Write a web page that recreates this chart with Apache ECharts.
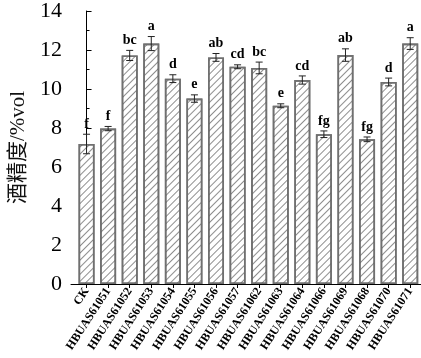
<!DOCTYPE html>
<html>
<head>
<meta charset="utf-8">
<script src="https://cdn.jsdelivr.net/npm/echarts@6/dist/echarts.min.js"></script>
<style>html,body{margin:0;padding:0;background:#fff}#c{width:421px;height:358px}</style>
</head>
<body>
<div id="c"></div>
<script>
var categories = ['CK','HBUAS61051','HBUAS61052','HBUAS61053','HBUAS61054','HBUAS61055','HBUAS61056','HBUAS61057','HBUAS61062','HBUAS61063','HBUAS61064','HBUAS61066','HBUAS61069','HBUAS61068','HBUAS61070','HBUAS61071'];
var values = [7.18, 7.97, 11.72, 12.33, 10.53, 9.51, 11.62, 11.14, 11.08, 9.14, 10.46, 7.68, 11.74, 7.42, 10.36, 12.33];
var errors = [0.5, 0.11, 0.26, 0.36, 0.2, 0.19, 0.2, 0.1, 0.3, 0.1, 0.21, 0.17, 0.32, 0.12, 0.2, 0.3];
var letters = ['f','f','bc','a','d','e','ab','cd','bc','e','cd','fg','ab','fg','d','a'];
var yTicks = [0, 2, 4, 6, 8, 10, 12, 14];
var yName = '酒精度/%vol';

var idx = categories.map(function (c, i) { return i; });
var barData = values.map(function (v, i) { return [i, v]; });
var errData = values.map(function (v, i) { return [i, v, errors[i], i]; });

var chart = echarts.init(document.getElementById('c'), null, {renderer: 'canvas'});
chart.setOption({
  animation: false,
  backgroundColor: '#fff',
  grid: {left: 61, right: 0, top: 8, bottom: 74, containLabel: false},
  xAxis: {
    type: 'value',
    min: -0.72,
    max: 15.5,
    splitLine: {show: false},
    axisLine: {show: true, lineStyle: {color: '#000', width: 1}},
    axisTick: {show: true, inside: false, length: 4, customValues: idx, lineStyle: {color: '#000'}},
    axisLabel: {
      show: true, customValues: idx, rotate: 57, margin: 5,
      fontFamily: 'Liberation Serif', fontWeight: 'bold', fontSize: 12, color: '#000',
      formatter: function (v) { return categories[Math.round(v)]; }
    }
  },
  yAxis: {
    type: 'value',
    min: yTicks[0], max: yTicks[yTicks.length - 1], interval: 2,
    name: yName, nameLocation: 'middle', nameGap: 42,
    nameTextStyle: {fontFamily: 'Liberation Serif, Noto Sans CJK SC', fontSize: 21, color: '#111'},
    splitLine: {show: false},
    axisLine: {show: true, lineStyle: {color: '#000', width: 1}},
    axisTick: {show: true, inside: true, length: 5, lineStyle: {color: '#000'}},
    minorTick: {show: true, splitNumber: 2, length: 3, lineStyle: {color: '#000'}},
    axisLabel: {fontFamily: 'Liberation Serif', fontSize: 22, color: '#000', margin: 9}
  },
  series: [
    {
      type: 'bar',
      data: barData,
      barWidth: 16,
      itemStyle: {
        color: '#fff',
        borderColor: '#707070',
        borderWidth: 1.6,
        decal: {
          symbol: 'rect', symbolSize: 1,
          dashArrayX: [1, 0], dashArrayY: [1, 3.4],
          rotation: -Math.PI / 4,
          color: 'rgba(50,50,50,0.55)'
        }
      },
      z: 2
    },
    {
      type: 'custom',
      data: errData,
      z: 5,
      renderItem: function (params, api) {
        var x = api.value(0), v = api.value(1), e = api.value(2), i = api.value(3);
        var top = api.coord([x, v + e]);
        var bot = api.coord([x, v - e]);
        var cw = 3.5;
        var st = {stroke: '#222', lineWidth: 1};
        return {
          type: 'group',
          children: [
            {type: 'line', shape: {x1: top[0], y1: top[1], x2: bot[0], y2: bot[1]}, style: st},
            {type: 'line', shape: {x1: top[0] - cw, y1: top[1], x2: top[0] + cw, y2: top[1]}, style: st},
            {type: 'line', shape: {x1: bot[0] - cw, y1: bot[1], x2: bot[0] + cw, y2: bot[1]}, style: st},
            {type: 'text', style: {
              text: letters[i], x: top[0], y: top[1] - 3,
              align: 'center', verticalAlign: 'bottom',
              font: 'bold 14px "Liberation Serif"', fill: '#000'
            }}
          ]
        };
      }
    }
  ]
});
</script>
</body>
</html>
